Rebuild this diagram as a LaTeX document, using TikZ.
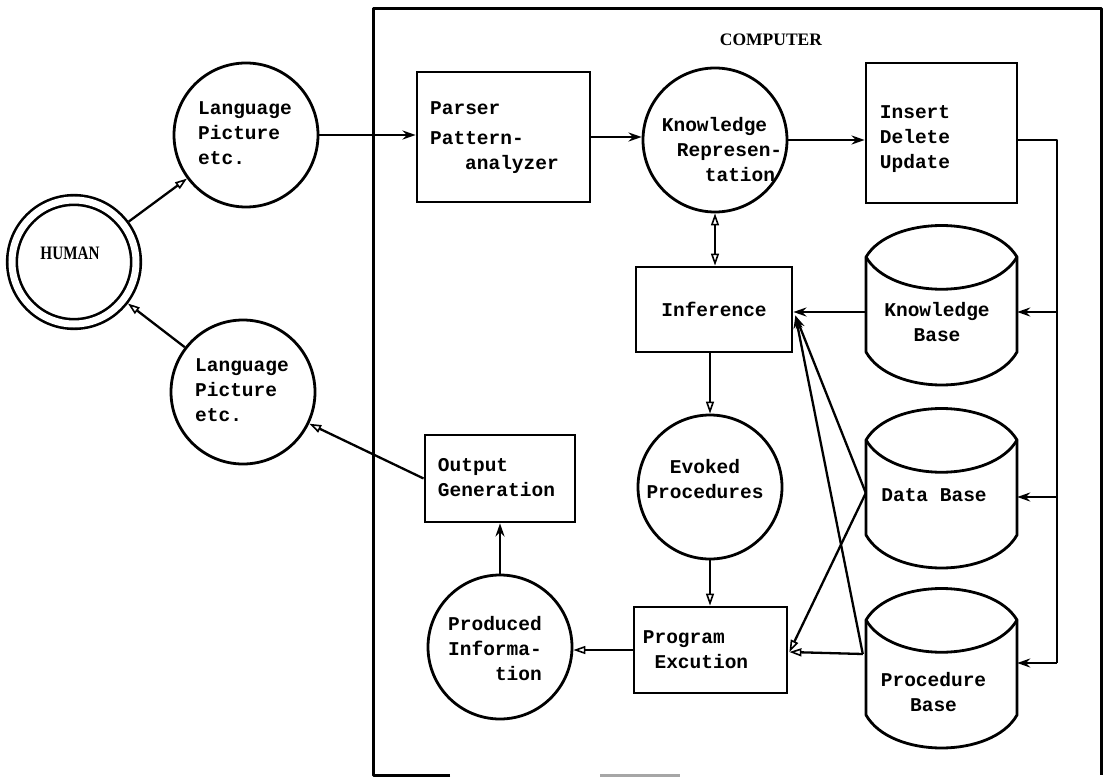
\documentclass[tikz,border=0pt]{standalone}
\usepackage{fontspec}
\newfontfamily\tw{Liberation Mono}
\newfontfamily\hm{Liberation Serif}[FakeStretch=0.8]
\newfontfamily\cp{Liberation Serif}
\usetikzlibrary{arrows.meta}
\tikzset{
  pics/dbcyl/.style={code={
    \draw[line width=2.8pt, line join=round] (0,32) .. controls (25,-10) and (126,-10) .. (151,32)
      -- (151,127) .. controls (126,171) and (25,171) .. (0,127) -- cycle;
    \draw[line width=2.8pt] (0,32) .. controls (25,75) and (126,75) .. (151,32);
  }}
}
\begin{document}
\begin{tikzpicture}[x=1pt,y=-1pt,
  roundnode/.style={circle, draw, line width=2.8pt, minimum size=144pt, inner sep=0pt},
  boxnode/.style={rectangle, draw, line width=2.8pt, inner sep=0pt},
  cylnode/.style={rectangle, minimum width=151pt, minimum height=160pt, inner sep=0pt},
  lbl/.style={font=\tw\bfseries\fontsize{19.5}{25}\selectfont, inner sep=0pt},
  conn/.style={line width=2.3pt},
  farrow/.style={conn, -{Stealth[length=13pt,width=9pt]}},
  oarrow/.style={conn, -{Triangle[open,length=12pt,width=8pt,line width=1.6pt]}},
  darrow/.style={conn, {Triangle[open,length=12pt,width=8pt,line width=1.6pt]}-{Triangle[open,length=12pt,width=8pt,line width=1.6pt]}},
]
\useasboundingbox (0,0) rectangle (1110,778);

% computer frame
\draw[line width=3pt, line join=round] (450,775) -- (373,775) -- (373,9) -- (1101,9) -- (1101,775);
\draw[line width=3pt, gray!70] (600,775) -- (680,775);
\node[font=\cp\bfseries\fontsize{17.5}{20}\selectfont, inner sep=0pt] (computer-label) at (771,40) {COMPUTER};

% human side
\node[circle, draw, double, double distance=7pt, line width=2.6pt, minimum size=124pt,
      inner sep=0pt, outer sep=6pt,
      label={[font=\hm\bfseries\fontsize{19}{22}\selectfont, inner sep=0pt, xshift=-4pt, yshift=9pt]center:HUMAN}]
      (human) at (74,262) {};
\node[roundnode, label={[lbl, align=left, xshift=-1pt, yshift=2pt]center:Language\\Picture\\etc.}] (lang1) at (246,135) {};
\node[roundnode, label={[lbl, align=left, xshift=-1pt, yshift=2pt]center:Language\\Picture\\etc.}] (lang2) at (243,392) {};

% computer internals
\node[boxnode, minimum width=173pt, minimum height=130pt,
      label={[lbl, align=left, xshift=-9pt, yshift=-1pt]center:Parser\\[5pt]Pattern-\\\hspace*{35pt}analyzer}]
      (parser) at (503.5,137) {};
\node[roundnode, label={[lbl, align=left, xshift=7pt, yshift=-10pt]center:Knowledge\\\hspace*{15pt}Represen-\\\hspace*{43pt}tation}]
      (kr) at (715,140) {};
\node[boxnode, minimum width=151pt, minimum height=140pt,
      label={[lbl, align=left, xshift=-26.5pt, yshift=-6pt]center:Insert\\Delete\\Update}]
      (idu) at (941.5,133) {};
\node[boxnode, minimum width=156pt, minimum height=85pt,
      label={[lbl]center:Inference}]
      (inf) at (714,309.5) {};
\node[roundnode, label={[lbl, align=center, xshift=-5pt, yshift=7.5pt]center:Evoked\\Procedures}]
      (ep) at (710,487) {};
\node[boxnode, minimum width=153pt, minimum height=86pt,
      label={[lbl, align=left, xshift=-15pt]center:Program\\\hspace*{11.7pt}Excution}]
      (pe) at (710.5,650) {};
\node[roundnode, label={[lbl, align=right, xshift=-5pt, yshift=-2pt]center:Produced\\Informa-\\tion}]
      (pi) at (500,647) {};
\node[boxnode, minimum width=150pt, minimum height=87pt,
      label={[lbl, align=left, xshift=-3.5pt, yshift=1pt]center:Output\\Generation}]
      (og) at (500,478.5) {};

% data stores
\pic (kbshape) at (866,225) {dbcyl};
\pic (dbshape) at (866,408) {dbcyl};
\pic (pbshape) at (866,588) {dbcyl};
\node[cylnode, label={[lbl, align=center, xshift=-4.5pt, yshift=-17.5pt]center:Knowledge\\Base}] (kb) at (941.5,305) {};
\node[cylnode, label={[lbl, xshift=-7.5pt, yshift=-7pt]center:Data Base}] (db) at (941.5,488) {};
\node[cylnode, label={[lbl, align=center, xshift=-8pt, yshift=-24.5pt]center:Procedure\\Base}] (pb) at (941.5,668) {};

% connectors: human side
\draw[oarrow] (human) -- (lang1);
\draw[oarrow] (lang2) -- (human);
\draw[oarrow] (og.west) -- (lang2);
\draw[farrow] (lang1.east) -- (lang1.east -| parser.west);

% main chain
\draw[farrow] (parser.east) -- (parser.east -| kr.west);
\draw[farrow] (kr.east) -- (kr.east -| idu.west);
\draw[darrow] (kr.south) -- (kr.south |- inf.north);
\draw[oarrow] (ep.north |- inf.south) -- (ep.north);
\draw[oarrow] (ep.south) -- (ep.south |- pe.north);
\draw[oarrow] (pe.west) -- (pe.west -| pi.east);
\draw[farrow] (pi.north) -- (pi.north |- og.south);

% bus to data stores
\coordinate (bus-top) at (1057,140);
\coordinate (bus-kb) at (1057,312);
\coordinate (bus-db) at (1057,497);
\coordinate (bus-pb) at (1057,663);
\draw[conn, line join=round] (bus-top -| idu.east) -- (bus-top) -- (bus-pb);
\draw[farrow] (bus-kb) -- (bus-kb -| kb.east);
\draw[farrow] (bus-db) -- (bus-db -| db.east);
\draw[farrow] (bus-pb) -- (bus-pb -| pb.east);

% stores to inference and execution
\coordinate (inf-in) at ([xshift=2pt,yshift=-6pt]inf.east);
\coordinate (db-out) at ([yshift=-5pt]db.west);
\coordinate (pb-out) at ([xshift=-3pt,yshift=14pt]pb.west);
\coordinate (pe-in) at ([xshift=1pt,yshift=-2pt]pe.east);
\draw[farrow] ([yshift=-7pt]kb.west) -- ([yshift=-7pt]kb.west -| inf.east);
\draw[farrow] (db-out) -- (inf-in);
\draw[farrow] (pb-out) -- (inf-in);
\draw[oarrow] (db-out) -- (pe-in);
\draw[oarrow] (pb-out) -- (pe-in);
\end{tikzpicture}
\end{document}
